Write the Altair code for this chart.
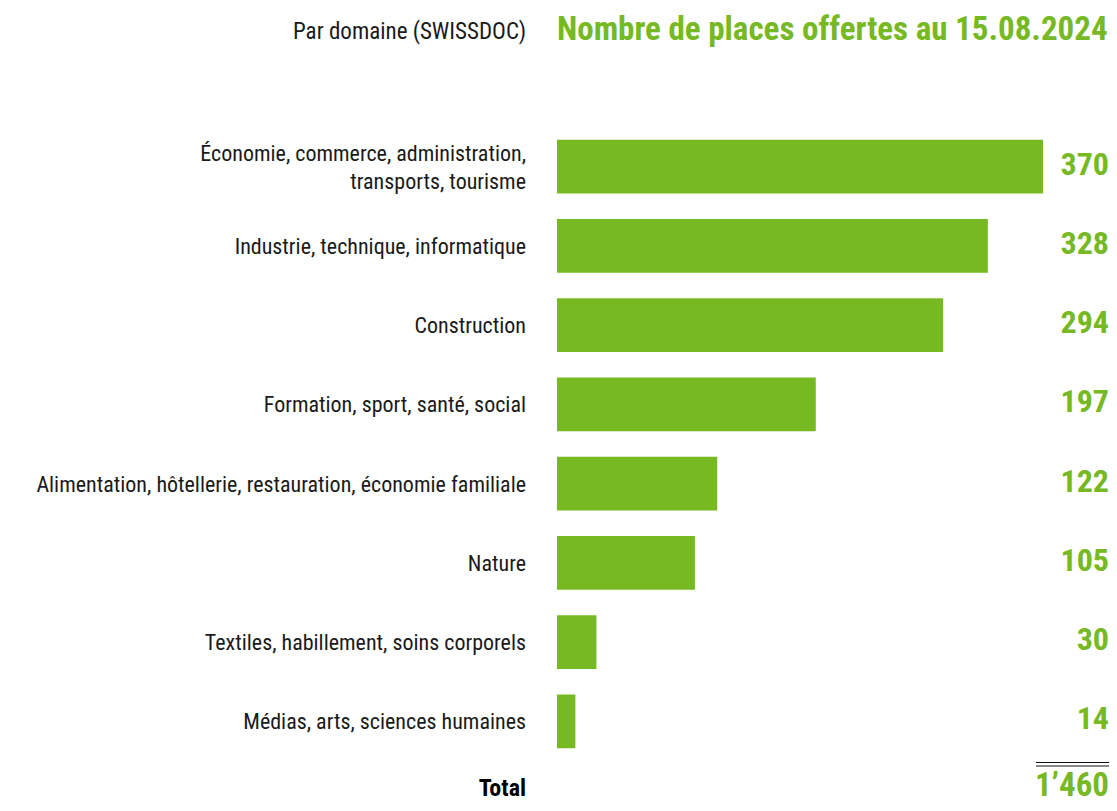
import altair as alt
import pandas as pd

# ---- data ----
categories = [
    "Économie, commerce, administration,\ntransports, tourisme",
    "Industrie, technique, informatique",
    "Construction",
    "Formation, sport, santé, social",
    "Alimentation, hôtellerie, restauration, économie familiale",
    "Nature",
    "Textiles, habillement, soins corporels",
    "Médias, arts, sciences humaines",
]
places = [370, 328, 294, 197, 122, 105, 30, 14]
subtitle_left = "Par domaine (SWISSDOC)"
title_right = "Nombre de places offertes au 15.08.2024"
total_label = "Total"

total = sum(places)
total_text = f"{total:,}".replace(",", "\u2019")

df = pd.DataFrame({"cat": categories, "val": places})
df["val_text"] = df["val"].astype(str)

GREEN = "#76B923"
FONT = "Liberation Sans Narrow, Roboto Condensed, DejaVu Sans Condensed, sans-serif"

W, H = 552, 634

y_enc = alt.Y("cat:N", sort=categories, axis=None,
              scale=alt.Scale(paddingInner=0.32, paddingOuter=0.16))

bars = alt.Chart(df).mark_bar(color=GREEN).encode(
    x=alt.X("val:Q", axis=None, scale=alt.Scale(domain=[0, 370 * W / 486], nice=False)),
    y=y_enc,
)

values = alt.Chart(df).mark_text(
    align="right", baseline="alphabetic", dy=8, font=FONT, fontSize=32,
    fontWeight="bold", color=GREEN,
).encode(x=alt.value(W), y=y_enc, text="val_text:N")

labels_single = alt.Chart(df).transform_filter(
    "indexof(datum.cat, '\\n') < 0"
).mark_text(
    align="right", baseline="middle", dy=1, font=FONT, fontSize=22,
    color="#1a1a1a",
).encode(x=alt.value(-31), y=y_enc, text="cat:N")

labels_multi = alt.Chart(df).transform_filter(
    "indexof(datum.cat, '\\n') >= 0"
).mark_text(
    align="right", baseline="middle", dy=-13, font=FONT, fontSize=22,
    lineBreak="\n", lineHeight=28, color="#1a1a1a",
).encode(x=alt.value(-31), y=y_enc, text="cat:N")

one = alt.Data(values=[{"a": 1}])

t_left = alt.Chart(one).mark_text(
    align="right", baseline="alphabetic", font=FONT, fontSize=23, color="#1a1a1a",
    text=subtitle_left,
).encode(x=alt.value(-31), y=alt.value(-88))

t_right = alt.Chart(one).mark_text(
    align="left", baseline="alphabetic", font=FONT, fontSize=33, fontWeight="bold",
    color=GREEN, text=title_right,
).encode(x=alt.value(0), y=alt.value(-87))

tot_lab = alt.Chart(one).mark_text(
    align="right", baseline="alphabetic", font=FONT, fontSize=24, fontWeight="bold",
    color="#000000", text=total_label,
).encode(x=alt.value(-31), y=alt.value(669))

tot_val = alt.Chart(one).mark_text(
    align="right", baseline="alphabetic", font=FONT, fontSize=33, fontWeight="bold",
    color=GREEN, text=total_text,
).encode(x=alt.value(W), y=alt.value(669))

rule1 = alt.Chart(one).mark_rule(color="#111111", strokeWidth=1.2).encode(
    x=alt.value(479), x2=alt.value(W), y=alt.value(635.5))
rule2 = alt.Chart(one).mark_rule(color="#888888", strokeWidth=2).encode(
    x=alt.value(479), x2=alt.value(W), y=alt.value(639))

chart = alt.layer(bars, values, labels_single, labels_multi, t_left, t_right,
                  tot_lab, tot_val, rule1, rule2).properties(
    width=W, height=H,
    autosize=alt.AutoSizeParams(type="none"),
    padding={"left": 549, "top": 119, "right": 0, "bottom": 42},
).configure_view(stroke=None)

chart.save("out.html", embed_options={"renderer": "svg", "actions": False})
